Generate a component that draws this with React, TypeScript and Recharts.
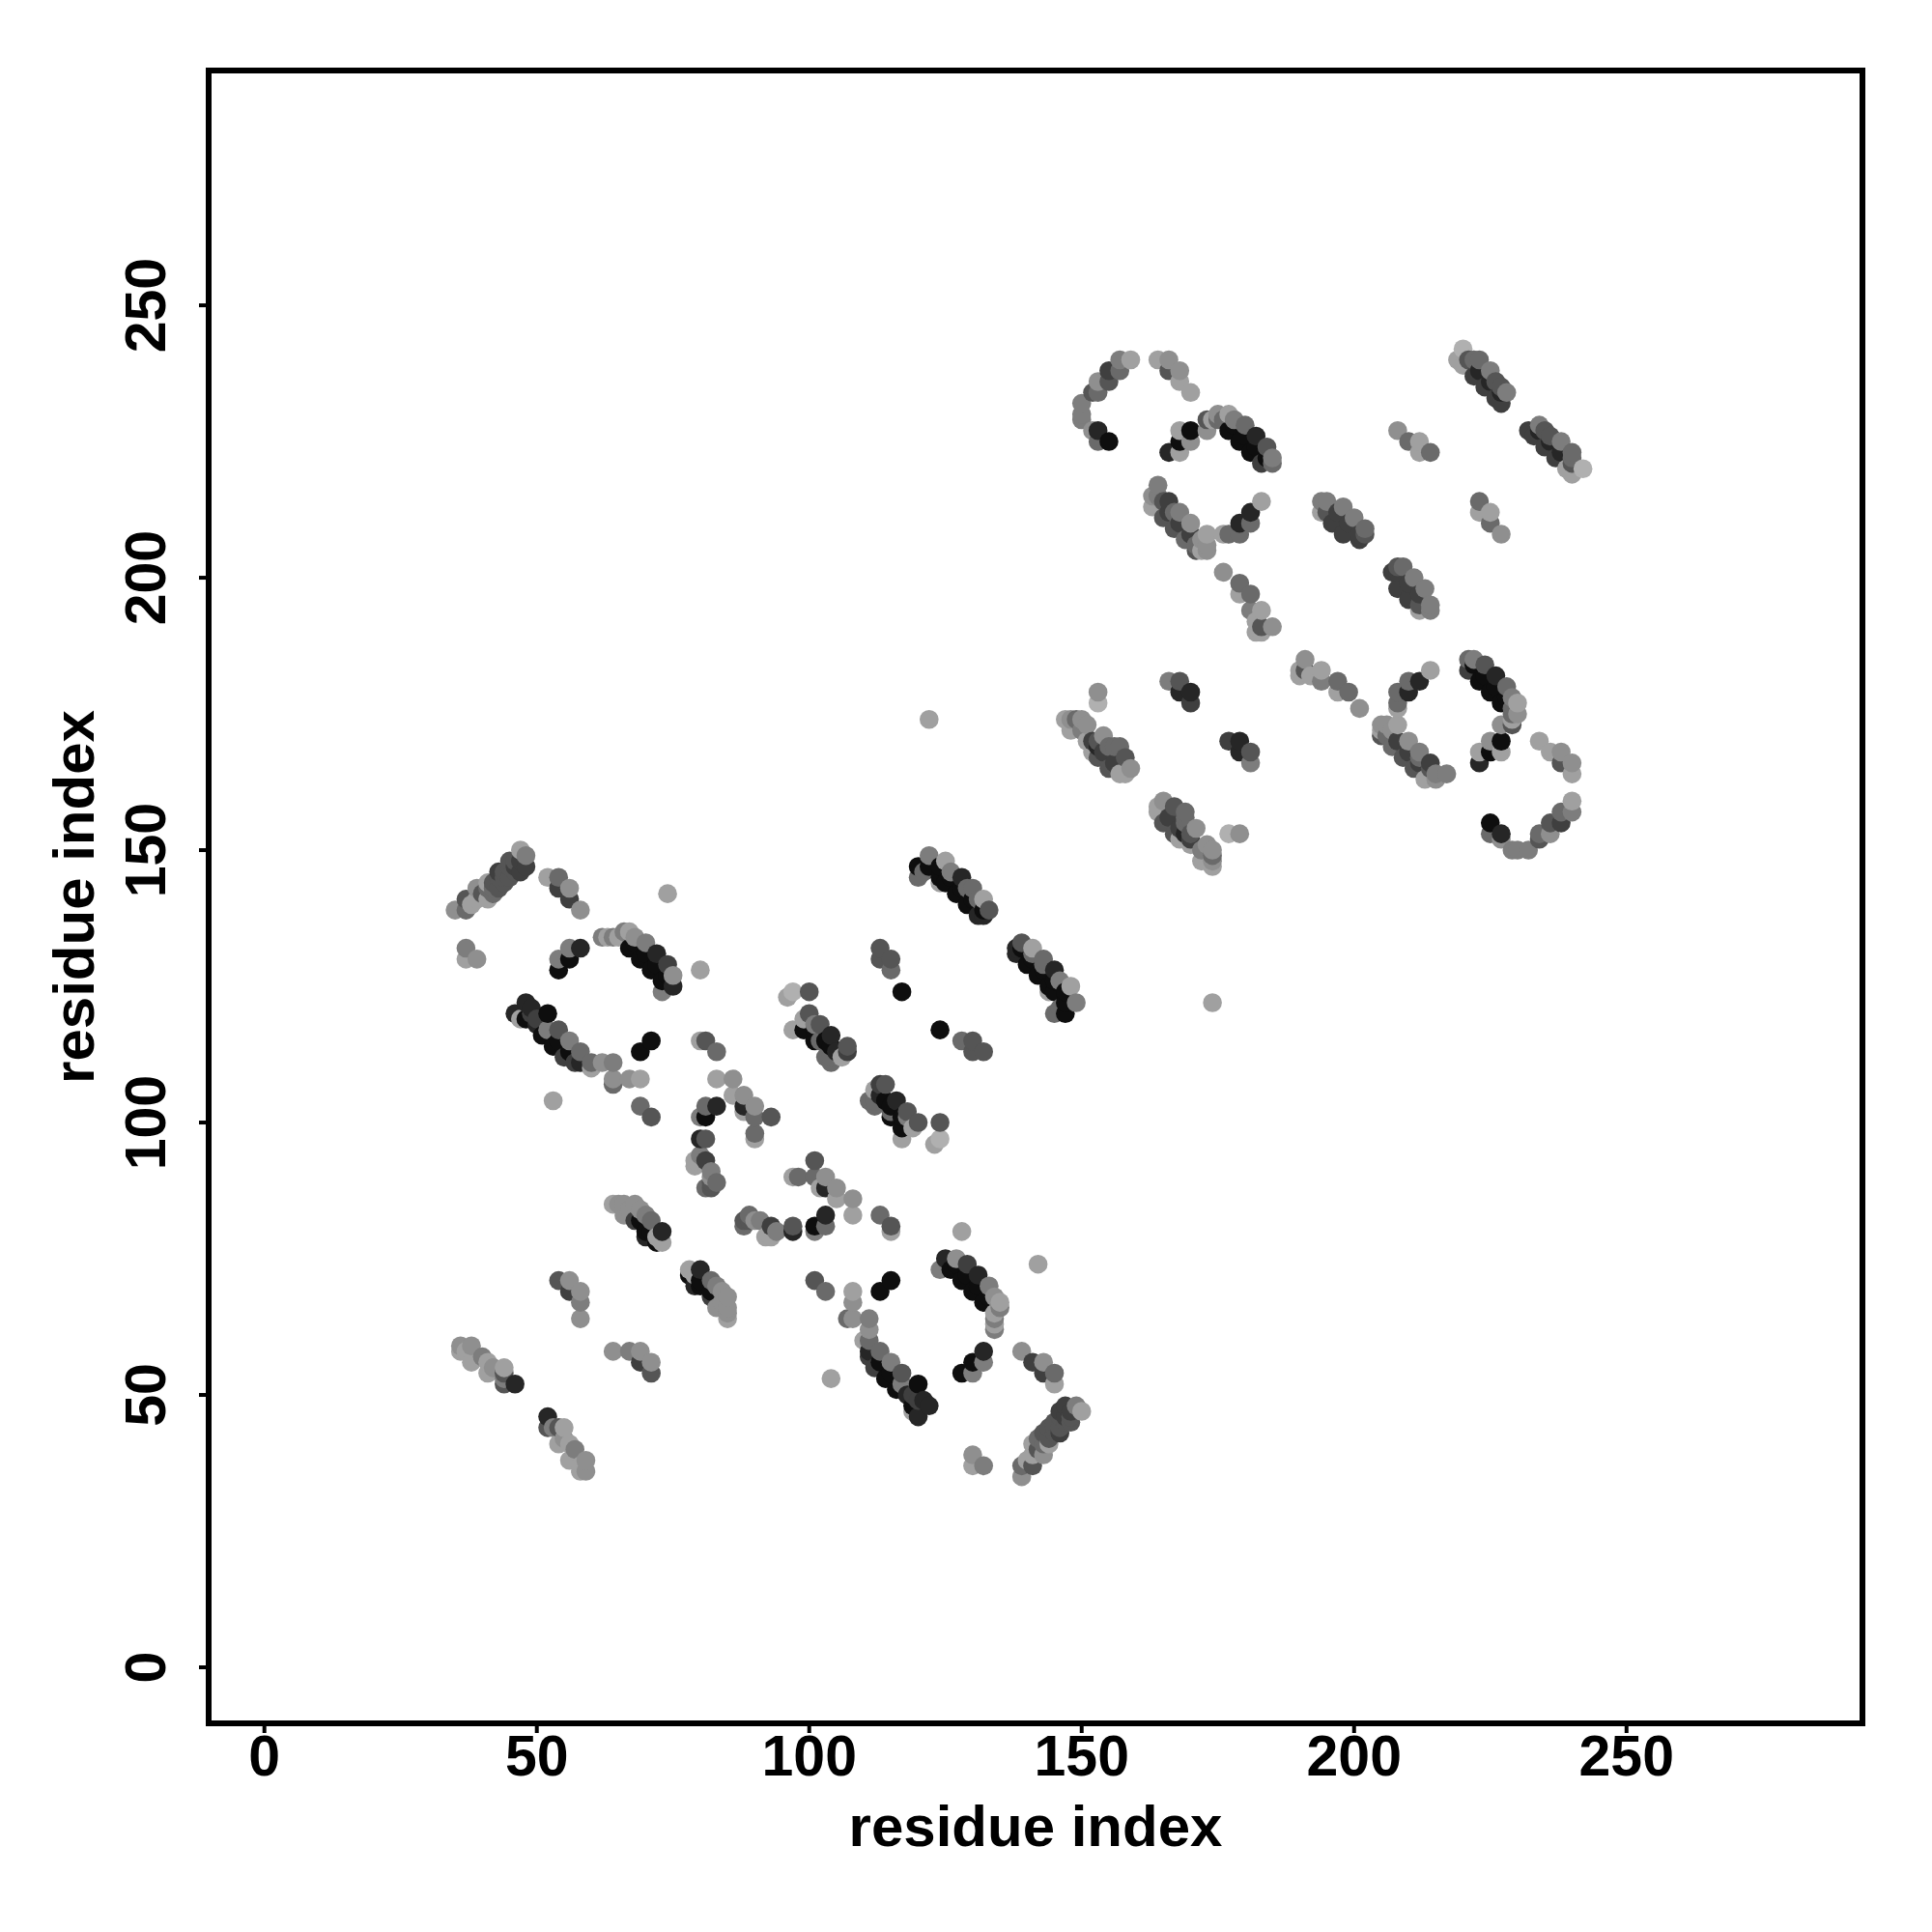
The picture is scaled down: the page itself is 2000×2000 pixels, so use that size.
import { ScatterChart, Scatter, XAxis, YAxis, ReferenceArea, Label } from "recharts";

// each contact is [residue i, residue j, shade], shade 0 = darkest, 8 = lightest
type Contact = [number, number, number];

const shadeGrays = ["#0e0e0e", "#262626", "#3f3f3f", "#555555", "#6a6a6a", "#7d7d7d", "#8f8f8f", "#a0a0a0", "#b0b0b0"];

const xDomain = [-10.23, 293.3];
const yDomain = [-10.28, 293.1];
const tickValues = [0, 50, 100, 150, 200, 250];

const sheetA: Contact[] = [
  [35, 139, 6], [37, 139, 4], [37, 141, 3], [38, 140, 7], [39, 141, 7], [39, 143, 6], [40, 142, 3], [41, 141, 7], [41, 143, 4],
  [41, 144, 7], [42, 142, 4], [42, 143, 4], [42, 144, 3], [43, 143, 3], [43, 145, 3], [43, 146, 2], [44, 144, 3], [44, 145, 3], [44, 146, 3],
  [45, 145, 3], [45, 147, 3], [45, 148, 3], [46, 146, 3], [46, 147, 2], [46, 148, 3], [47, 146, 2], [47, 148, 2], [47, 150, 7], [48, 147, 2], [48, 149, 5],
];
const sheetB: Contact[] = [[52, 145, 7], [54, 145, 4], [54, 143, 2], [56, 143, 6], [56, 141, 2], [58, 139, 6]];
const sheetC: Contact[] = [[37, 132, 5], [37, 130, 7], [39, 130, 6]];
const sheetD: Contact[] = [[54, 128, 0], [54, 130, 5], [56, 130, 0], [56, 132, 5], [58, 132, 1]];
const sheetE: Contact[] = [
  [62, 134, 5], [63, 134, 7], [64, 134, 5], [65, 134, 7], [66, 135, 5], [67, 135, 7], [67, 132, 0], [68, 133, 0], [68, 134, 6],
  [69, 130, 0], [70, 131, 0], [70, 133, 5], [71, 128, 0], [72, 129, 0], [72, 131, 1], [73, 126, 0], [73, 124, 5], [74, 127, 0], [74, 129, 2], [75, 125, 1],
  [75, 127, 6],
];
const sheetF: Contact[] = [
  [46, 120, 1], [47, 119, 7], [48, 119, 0], [48, 122, 1], [49, 120, 2], [49, 121, 1], [50, 118, 1], [50, 119, 2],
  [51, 116, 0], [52, 117, 5], [52, 120, 0], [53, 114, 0], [54, 115, 0], [54, 117, 3], [55, 112, 2], [56, 113, 0], [56, 115, 5], [57, 111, 2],
  [58, 111, 1], [58, 113, 4], [60, 110, 7], [60, 111, 4], [62, 111, 6], [64, 107, 4], [64, 108, 6], [64, 111, 5], [67, 108, 6],
  [69, 108, 7],
];
const sheetG: Contact[] = [[69, 113, 0], [71, 115, 0], [69, 103, 4], [71, 101, 3]];
const isolated: Contact[] = [[53, 104, 7], [74, 142, 7], [122, 174, 7], [80, 128, 7], [117, 124, 0]];
const turnJ: Contact[] = [
  [80, 115, 7], [81, 115, 3], [83, 113, 4], [83, 108, 7], [86, 108, 6], [86, 105, 7], [88, 105, 6], [88, 103, 1],
  [88, 102, 7], [90, 103, 6], [90, 101, 4], [90, 98, 4], [90, 97, 7], [93, 101, 3],
];
const turnK: Contact[] = [
  [79, 92, 7], [79, 93, 7], [80, 94, 5], [80, 97, 1], [80, 101, 5], [81, 88, 4], [81, 93, 2], [81, 97, 3],
  [81, 101, 0], [81, 103, 4], [82, 88, 3], [82, 89, 3], [82, 90, 6], [82, 91, 5], [83, 89, 4], [83, 103, 1],
];
const sheetL: Contact[] = [
  [64, 85, 7], [65, 85, 6], [66, 85, 6], [66, 83, 6], [67, 84, 6], [68, 85, 6], [68, 82, 2], [69, 82, 0], [69, 84, 6], [70, 83, 5], [70, 80, 0],
  [70, 79, 1], [71, 80, 0], [71, 82, 4], [72, 78, 0], [72, 79, 7], [73, 78, 7], [73, 80, 1],
];
const sheetM: Contact[] = [
  [36, 58, 7], [36, 59, 6], [37, 58, 7], [38, 59, 6], [38, 56, 7], [40, 57, 5], [41, 56, 7], [41, 54, 7],
  [42, 55, 6], [44, 52, 3], [44, 53, 5], [44, 54, 3], [44, 55, 7], [46, 52, 1],
];
const sheetN: Contact[] = [[54, 71, 3], [56, 71, 6], [56, 69, 2], [58, 69, 6], [58, 67, 5], [58, 64, 6]];
const sheetQ: Contact[] = [
  [120, 145, 4], [120, 147, 0], [121, 146, 4], [122, 147, 0], [122, 149, 5], [124, 144, 7], [124, 145, 0], [124, 147, 0],
  [125, 144, 0], [125, 148, 7], [126, 145, 0], [126, 146, 5], [127, 142, 0], [128, 143, 0], [128, 145, 1], [129, 140, 0], [129, 143, 4],
  [130, 141, 0], [130, 143, 4], [131, 141, 4], [131, 138, 1], [132, 138, 1], [132, 139, 0], [132, 141, 7], [133, 139, 3],
];
const sheetR: Contact[] = [[113, 132, 3], [113, 130, 3], [115, 130, 3], [115, 128, 4]];
const sheetS: Contact[] = [
  [96, 123, 7], [97, 124, 8], [97, 117, 7], [99, 119, 7], [99, 117, 0], [100, 120, 3], [100, 124, 3], [101, 115, 0], [101, 117, 0],
  [101, 118, 5], [102, 115, 4], [102, 118, 3], [103, 112, 4], [103, 115, 0], [104, 111, 4], [104, 112, 4], [104, 114, 0],
  [104, 116, 1], [105, 113, 1], [106, 112, 7], [107, 113, 2], [107, 114, 3],
];
const arcV: Contact[] = [
  [150, 229, 5], [150, 230, 5], [150, 232, 5], [152, 227, 6], [152, 234, 3], [153, 225, 4], [153, 227, 1],
  [153, 234, 4], [153, 236, 6], [155, 225, 0], [155, 236, 3], [155, 238, 2], [157, 238, 4], [157, 240, 5], [159, 240, 7],
];
const arcW: Contact[] = [[164, 240, 7], [166, 238, 3], [166, 240, 6], [168, 236, 7], [168, 238, 6], [170, 234, 7]];
const arcX: Contact[] = [[166, 223, 1], [168, 223, 7], [168, 225, 0], [168, 227, 7], [170, 225, 6], [170, 227, 0]];
const sheetY: Contact[] = [
  [173, 227, 6], [173, 229, 3], [174, 229, 7], [175, 229, 4], [175, 230, 6], [176, 229, 4], [177, 227, 0], [177, 230, 7],
  [178, 228, 0], [178, 229, 5], [179, 225, 0], [180, 226, 0], [180, 228, 4], [181, 223, 0], [182, 224, 0], [182, 226, 1], [183, 221, 2], [184, 222, 0], [184, 224, 3], [185, 221, 4], [185, 222, 5],
];
const sheetZ: Contact[] = [
  [163, 213, 7], [163, 215, 6], [164, 215, 5], [164, 217, 5], [165, 211, 3], [165, 214, 3], [166, 212, 2], [166, 214, 2], [167, 209, 3],
  [167, 212, 4], [168, 210, 2], [168, 212, 5], [169, 207, 4], [170, 208, 2], [170, 210, 6], [171, 205, 3], [171, 206, 4], [172, 205, 7], [172, 207, 6],
  [173, 205, 6], [173, 206, 6], [173, 208, 7],
];
const turnAA: Contact[] = [[176, 208, 7], [177, 208, 4], [179, 208, 4], [179, 210, 1], [181, 210, 4], [181, 212, 1], [183, 214, 7]];
const turnBB: Contact[] = [
  [176, 201, 6], [179, 199, 4], [179, 197, 7], [181, 197, 4], [181, 194, 5], [182, 190, 7], [182, 192, 7],
  [183, 190, 7], [183, 191, 3], [183, 194, 7], [185, 191, 6],
];
const sheetCC: Contact[] = [
  [194, 212, 7], [194, 214, 5], [195, 212, 3], [195, 214, 5], [196, 210, 2], [197, 212, 2], [198, 208, 2], [198, 213, 5], [199, 210, 2],
  [200, 211, 5], [201, 207, 2], [201, 208, 2], [202, 208, 3], [202, 209, 4],
];
const sheetDD: Contact[] = [[208, 227, 6], [210, 225, 4], [212, 225, 7], [212, 223, 7], [214, 223, 4]];
const sheetEE: Contact[] = [
  [219, 240, 7], [220, 239, 7], [220, 242, 8], [221, 240, 3], [222, 237, 2], [222, 240, 4], [223, 238, 1], [223, 240, 4], [224, 235, 2],
  [225, 236, 1], [225, 238, 5], [226, 233, 2], [226, 236, 3], [227, 232, 2], [227, 234, 1], [227, 235, 3], [228, 234, 5],
];
const sheetFF: Contact[] = [
  [147, 174, 7], [148, 172, 7], [148, 174, 6], [149, 174, 4], [150, 172, 5], [150, 174, 6], [151, 170, 7], [151, 173, 6],
  [152, 168, 7], [152, 170, 2], [153, 167, 3], [153, 169, 1], [153, 170, 3], [153, 177, 8], [153, 179, 6], [154, 168, 2], [154, 171, 6], [155, 165, 3], [155, 169, 4],
  [156, 166, 2], [156, 169, 4], [157, 164, 7], [157, 169, 4], [158, 164, 7], [158, 167, 3], [159, 165, 6],
];
const sheetGG: Contact[] = [[166, 181, 5], [168, 181, 3], [168, 179, 1], [170, 179, 1], [170, 177, 2]];

const allContacts: Contact[] = [
  sheetA, sheetB, sheetC, sheetD, sheetE, sheetF, sheetG, isolated, turnJ, turnK, sheetL, sheetM, sheetN, sheetQ, sheetR, sheetS,
  arcV, arcW, arcX, sheetY, sheetZ, turnAA, turnBB, sheetCC, sheetDD, sheetEE, sheetFF, sheetGG,
].flat();

// the map is symmetric, and the original draws left to right, bottom to top
const points = allContacts
  .flatMap(([i, j, shade]) => [
    { x: i, y: j, shade },
    { x: j, y: i, shade },
  ])
  .sort((a, b) => a.x - b.x || a.y - b.y);

const fontFamily = '"Liberation Sans", Arial, sans-serif';

function XTick({ x, y, payload }: any) {
  return (
    <text x={x} y={y + 42} textAnchor="middle" fontFamily={fontFamily} fontWeight="bold" fontSize={59} fill="#000">
      {payload.value}
    </text>
  );
}

function YTick({ y, payload }: any) {
  return (
    <text
      x={171}
      y={y}
      transform={`rotate(-90 171 ${y})`}
      textAnchor="middle"
      fontFamily={fontFamily}
      fontWeight="bold"
      fontSize={59}
      fill="#000"
    >
      {payload.value}
    </text>
  );
}

function ContactDot({ cx, cy, payload }: any) {
  return <circle cx={cx} cy={cy} r={9.8} fill={shadeGrays[payload.shade]} />;
}

export default function App() {
  return (
    <div style={{ position: "absolute", left: 0, top: 0, width: 2000, height: 2000, background: "#fff" }}>
      <ScatterChart width={2000} height={2000} margin={{ top: 73, right: 72, bottom: 116, left: 116 }}>
        <XAxis
          type="number"
          dataKey="x"
          domain={xDomain}
          ticks={tickValues}
          height={100}
          interval={0}
          axisLine={false}
          tickLine={{ stroke: "#000", strokeWidth: 4 }}
          tickSize={10}
          tick={<XTick />}
        >
          <Label
            value="residue index"
            position="bottom"
            offset={-16}
            style={{ fontFamily, fontWeight: "bold", fontSize: 60, fill: "#000" }}
          />
        </XAxis>
        <YAxis
          type="number"
          dataKey="y"
          domain={yDomain}
          ticks={tickValues}
          width={100}
          interval={0}
          axisLine={false}
          tickLine={{ stroke: "#000", strokeWidth: 4 }}
          tickSize={10}
          tick={<YTick />}
        >
          <Label
            value="residue index"
            angle={-90}
            position="left"
            offset={40}
            style={{ fontFamily, fontWeight: "bold", fontSize: 60, fill: "#000", textAnchor: "middle" }}
          />
        </YAxis>
        <ReferenceArea
          x1={xDomain[0]}
          x2={xDomain[1]}
          y1={yDomain[0]}
          y2={yDomain[1]}
          fill="none"
          stroke="#000"
          strokeWidth={6}
          ifOverflow="visible"
        />
        <Scatter data={points} isAnimationActive={false} shape={<ContactDot />} />
      </ScatterChart>
    </div>
  );
}
